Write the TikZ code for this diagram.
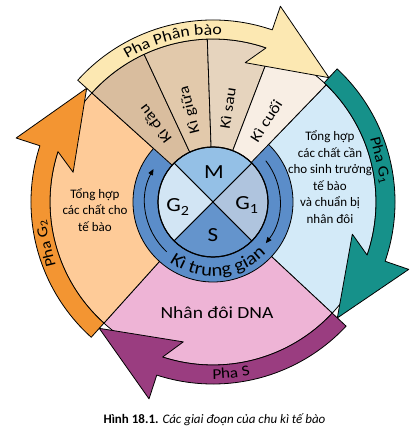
\documentclass[tikz,border=0pt]{standalone}
\usepackage{fontspec}
\setmainfont{Carlito}
\newfontfamily\widesans[FakeStretch=1.15]{Carlito}
\usetikzlibrary{arrows.meta,decorations.text}

\definecolor{phanbao}{HTML}{FCE8B2}
\definecolor{kidau}{HTML}{D9BD9E}
\definecolor{kigiua}{HTML}{E2C9AB}
\definecolor{kisau}{HTML}{E6D4BE}
\definecolor{kicuoi}{HTML}{F8EEE4}
\definecolor{vungGone}{HTML}{D3EAF8}
\definecolor{vungGtwo}{HTML}{FECB98}
\definecolor{vungS}{HTML}{EEB4D6}
\definecolor{phaGone}{HTML}{16918A}
\definecolor{phaGtwo}{HTML}{F39532}
\definecolor{phaS}{HTML}{9A3D80}
\definecolor{trunggian}{HTML}{5B8DC9}
\definecolor{tamM}{HTML}{94C0E6}
\definecolor{tamGtwo}{HTML}{D2E5F4}
\definecolor{tamGone}{HTML}{AFC4DE}
\definecolor{tamS}{HTML}{6494CC}

% band with arrow head: colour, tail angle, tip angle
\newcommand{\phaband}[3]{%
  \pgfmathsetmacro{\neck}{#3+24}%
  \pgfmathsetmacro{\barb}{#3+30}%
  \filldraw[fill=#1] (#2:182pt) arc[start angle=#2,end angle=\neck,radius=182pt]
    -- (\neck:207pt) -- (#3:170pt) -- (\barb:143pt) -- (\neck:163pt)
    arc[start angle=\neck,end angle=#2,radius=163pt] -- cycle;}

\begin{document}
\begin{tikzpicture}[line width=0.8pt,line join=round,
    region text/.style={font=\fontsize{13}{16.5}\selectfont,align=center},
    ki label/.style={font=\widesans\fontsize{15}{15}\selectfont},
    phase letter/.style={font=\widesans\fontsize{20}{20}\selectfont},
    pha label/.style={font=\widesans\fontsize{15}{15}\selectfont},
    ring arrow/.style={-{Triangle[length=6pt,width=5pt]}}]
  \useasboundingbox (-213pt,-233pt) rectangle (206pt,202pt);

  % Draw outer regions
  \filldraw[fill=vungGone] (0,0) -- (46:163pt) arc[start angle=46,end angle=-43,radius=163pt] -- cycle;
  \filldraw[fill=vungS] (0,0) -- (-43:163pt) arc[start angle=-43,end angle=-132,radius=163pt] -- cycle;
  \filldraw[fill=vungGtwo] (0,0) -- (228:163pt) arc[start angle=228,end angle=138,radius=163pt] -- cycle;
  \filldraw[fill=trunggian] (0,0) circle[radius=80pt];
  \foreach \a/\b/\c in {138/115/kidau,115/92/kigiua,92/69/kisau,69/46/kicuoi}
    \filldraw[fill=\c] (0,0) -- (\a:163pt) arc[start angle=\a,end angle=\b,radius=163pt] -- cycle;

  % Draw inner circle
  \foreach \a/\c in {45/tamM,135/tamGtwo,225/tamS,-45/tamGone}
    \filldraw[fill=\c] (0,0) -- (\a:55pt) arc[start angle=\a,delta angle=90,radius=55pt] -- cycle;
  \draw[line width=1.2pt] (0,0) circle[radius=55pt];
  \draw[ring arrow] (227:68pt) arc[start angle=227,end angle=151,radius=68pt];
  \draw[ring arrow] (38:67pt) arc[start angle=38,end angle=-38,radius=67pt];

  % Draw phase bands
  \phaband{phaGtwo}{228}{138}
  \phaband{phanbao}{138}{47}
  \phaband{phaGone}{47}{-43}
  \phaband{phaS}{-43}{-132}

  % Labels
  \node[phase letter] (M) at (1pt,30pt) {M};
  \node[phase letter] (G2) at (-35pt,-5pt) {G\textsubscript{2}};
  \node[phase letter] (G1) at (34pt,-3pt) {G\textsubscript{1}};
  \node[phase letter] (S) at (0pt,-33pt) {S};

  \node[ki label,rotate=127] (kidau) at (127:97pt) {Kì đầu};
  \node[ki label,rotate=104] (kigiua) at (104:95pt) {Kì giữa};
  \node[ki label,rotate=81] (kisau) at (81:95pt) {Kì sau};
  \node[ki label,rotate=57] (kicuoi) at (57:97pt) {Kì cuối};

  \node[region text] (tonghopG1) at (117pt,25pt) {Tổng hợp\\các chất cần\\cho sinh trưởng\\tế bào\\và chuẩn bị\\nhân đôi};
  \node[region text] (tonghopG2) at (-118pt,-8pt) {Tổng hợp\\các chất cho\\tế bào};
  \node[font=\widesans\fontsize{17}{17}\selectfont] (dna) at (4pt,-111pt) {Nhân đôi DNA};

  \node[pha label,rotate=-76] (phaG1) at (14:172pt) {Pha G\textsubscript{1}};
  \node[pha label,rotate=104] (phaG2) at (194:172pt) {Pha G\textsubscript{2}};
  \path[decorate,decoration={text along path,text align=center,
      text={|\widesans\fontsize{15.5}{15.5}\selectfont|Pha Phân bào}}]
    (134:167pt) arc[start angle=134,end angle=74,radius=167pt];
  \path[decorate,decoration={text along path,text align=center,
      text={|\widesans\fontsize{15}{15}\selectfont|Pha S}}]
    (256:177pt) arc[start angle=256,end angle=296,radius=177pt];
  \path[decorate,decoration={text along path,text align=center,
      text={|\widesans\fontsize{18}{18}\selectfont|Kì trung gian}}]
    (220:74pt) arc[start angle=220,end angle=330,radius=74pt];

  \node[font=\fontsize{13}{14}\selectfont] (caption) at (1.5pt,-218pt)
    {\textbf{Hình 18.1.} \textit{Các giai đoạn của chu kì tế bào}};
\end{tikzpicture}
\end{document}
